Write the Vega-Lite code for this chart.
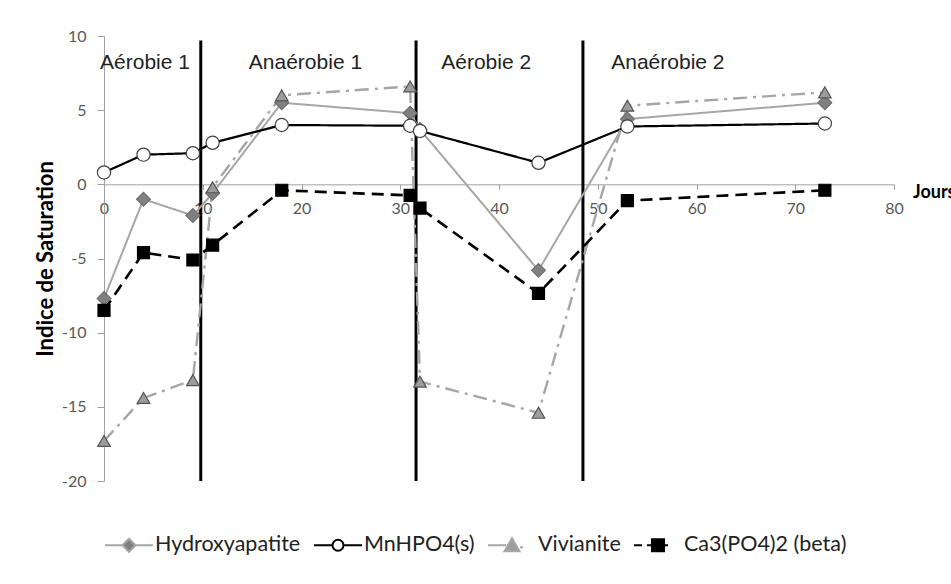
{
  "$schema": "https://vega.github.io/schema/vega-lite/v6.json",
  "width": 790,
  "height": 445,
  "autosize": {"type": "none"},
  "padding": {"left": 104, "top": 36, "right": 57, "bottom": 103},
  "background": "white",
  "config": {"view": {"stroke": null}, "font": "Lato"},
  "resolve": {"scale": {"shape": "independent", "fill": "independent", "stroke": "independent", "size": "independent"}},
  "datasets": {
    "series": [
      {"day": 0, "series": "Hydroxyapatite", "value": -7.7},
      {"day": 4, "series": "Hydroxyapatite", "value": -1.0},
      {"day": 9, "series": "Hydroxyapatite", "value": -2.1},
      {"day": 11, "series": "Hydroxyapatite", "value": -0.6},
      {"day": 18, "series": "Hydroxyapatite", "value": 5.5},
      {"day": 31, "series": "Hydroxyapatite", "value": 4.8},
      {"day": 32, "series": "Hydroxyapatite", "value": 3.7},
      {"day": 44, "series": "Hydroxyapatite", "value": -5.8},
      {"day": 53, "series": "Hydroxyapatite", "value": 4.4},
      {"day": 73, "series": "Hydroxyapatite", "value": 5.5},
      {"day": 0, "series": "MnHPO4(s)", "value": 0.8},
      {"day": 4, "series": "MnHPO4(s)", "value": 2.0},
      {"day": 9, "series": "MnHPO4(s)", "value": 2.1},
      {"day": 11, "series": "MnHPO4(s)", "value": 2.8},
      {"day": 18, "series": "MnHPO4(s)", "value": 4.0},
      {"day": 31, "series": "MnHPO4(s)", "value": 3.95},
      {"day": 32, "series": "MnHPO4(s)", "value": 3.6},
      {"day": 44, "series": "MnHPO4(s)", "value": 1.45},
      {"day": 53, "series": "MnHPO4(s)", "value": 3.9},
      {"day": 73, "series": "MnHPO4(s)", "value": 4.1},
      {"day": 0, "series": "Vivianite", "value": -17.3},
      {"day": 4, "series": "Vivianite", "value": -14.4},
      {"day": 9, "series": "Vivianite", "value": -13.2},
      {"day": 11, "series": "Vivianite", "value": -0.2},
      {"day": 18, "series": "Vivianite", "value": 6.0},
      {"day": 31, "series": "Vivianite", "value": 6.6},
      {"day": 32, "series": "Vivianite", "value": -13.3},
      {"day": 44, "series": "Vivianite", "value": -15.4},
      {"day": 53, "series": "Vivianite", "value": 5.3},
      {"day": 73, "series": "Vivianite", "value": 6.2},
      {"day": 0, "series": "Ca3(PO4)2 (beta)", "value": -8.5},
      {"day": 4, "series": "Ca3(PO4)2 (beta)", "value": -4.6},
      {"day": 9, "series": "Ca3(PO4)2 (beta)", "value": -5.1},
      {"day": 11, "series": "Ca3(PO4)2 (beta)", "value": -4.1},
      {"day": 18, "series": "Ca3(PO4)2 (beta)", "value": -0.4},
      {"day": 31, "series": "Ca3(PO4)2 (beta)", "value": -0.75},
      {"day": 32, "series": "Ca3(PO4)2 (beta)", "value": -1.6},
      {"day": 44, "series": "Ca3(PO4)2 (beta)", "value": -7.35},
      {"day": 53, "series": "Ca3(PO4)2 (beta)", "value": -1.1},
      {"day": 73, "series": "Ca3(PO4)2 (beta)", "value": -0.4}
    ],
    "phases": [{"day": 9.8}, {"day": 31.6}, {"day": 48.5}],
    "labels": [
      {"label": "Aérobie 1", "day": 4.15, "value": 7.8},
      {"label": "Anaérobie 1", "day": 20.4, "value": 7.8},
      {"label": "Aérobie 2", "day": 38.7, "value": 7.8},
      {"label": "Anaérobie 2", "day": 57.1, "value": 7.8}
    ],
    "jours": [{"label": "Jours", "day": 80, "value": 0}]
  },
  "layer": [
    {
      "data": {"name": "phases"},
      "mark": {"type": "rule", "color": "#000000", "strokeWidth": 3},
      "encoding": {
        "x": {"field": "day", "type": "quantitative", "scale": {"domain": [0, 80], "nice": false},
          "axis": {"values": [0,10,20,30,40,50,60,70,80], "title": null, "grid": false, "offset": -296.67,
            "labelFont": "Lato", "labelFontSize": 16, "labelColor": "#595959", "labelPadding": 11,
            "tickSize": 5, "tickColor": "#a0a0a0", "domainColor": "#a0a0a0", "labelFlush": false}},
        "y": {"datum": -20, "type": "quantitative", "scale": {"domain": [-20, 10], "nice": false},
          "axis": {"values": [-20,-15,-10,-5,0,5,10], "title": "Indice de Saturation", "grid": false,
            "labelExpr": "toString(datum.value)",
            "labelFont": "Lato", "labelFontSize": 16, "labelColor": "#595959", "labelPadding": 11,
            "tickSize": 7, "tickColor": "#a0a0a0", "domainColor": "#a0a0a0",
            "titleFont": "Lato", "titleFontSize": 22, "titleFontWeight": "bold", "titleColor": "#000000", "titlePadding": 4}},
        "y2": {"datum": 9.7}
      }
    },
    {
      "data": {"name": "series"},
      "mark": {"type": "line"},
      "encoding": {
        "x": {"field": "day", "type": "quantitative"},
        "y": {"field": "value", "type": "quantitative"},
        "detail": {"field": "series"},
        "color": {"field": "series", "type": "nominal",
          "scale": {"domain": ["Ca3(PO4)2 (beta)", "Vivianite", "MnHPO4(s)", "Hydroxyapatite"], "range": ["#000000", "#a6a6a6", "#000000", "#a6a6a6"]},
          "legend": null},
        "strokeDash": {"field": "series", "type": "nominal",
          "scale": {"domain": ["Ca3(PO4)2 (beta)", "Vivianite", "MnHPO4(s)", "Hydroxyapatite"], "range": [[12, 7], [14, 6, 3, 6], [1, 0], [1, 0]]},
          "legend": null},
        "strokeWidth": {"field": "series", "type": "ordinal",
          "scale": {"domain": ["Ca3(PO4)2 (beta)", "Vivianite", "MnHPO4(s)", "Hydroxyapatite"], "range": [2.6, 2, 2.6, 2]},
          "legend": null}
      }
    },
    {
      "data": {"name": "series"},
      "mark": {"type": "point", "opacity": 1, "strokeWidth": 1.2},
      "encoding": {
        "x": {"field": "day", "type": "quantitative"},
        "y": {"field": "value", "type": "quantitative"},
        "shape": {"field": "series", "type": "nominal",
          "scale": {"domain": ["Ca3(PO4)2 (beta)", "Vivianite", "MnHPO4(s)", "Hydroxyapatite"], "range": ["square", "triangle-up", "circle", "diamond"]},
          "legend": null},
        "stroke": {"field": "series", "type": "nominal",
          "scale": {"domain": ["Ca3(PO4)2 (beta)", "Vivianite", "MnHPO4(s)", "Hydroxyapatite"], "range": ["#000000", "#555555", "#404040", "#6e6e6e"]},
          "legend": null},
        "size": {"field": "series", "type": "ordinal",
          "scale": {"domain": ["Ca3(PO4)2 (beta)", "Vivianite", "MnHPO4(s)", "Hydroxyapatite"], "range": [144, 190, 100, 140]},
          "legend": null},
        "fill": {"field": "series", "type": "nominal",
          "scale": {"domain": ["Ca3(PO4)2 (beta)", "Vivianite", "MnHPO4(s)", "Hydroxyapatite"], "range": ["#000000", "#9c9c9c", "#ffffff", "#808080"]},
          "legend": null}
      }
    },
    {
      "data": {"name": "series"},
      "mark": {"type": "point", "filled": true, "opacity": 0, "strokeWidth": 2},
      "encoding": {
        "x": {"field": "day", "type": "quantitative"},
        "y": {"field": "value", "type": "quantitative"},
        "shape": {"field": "series", "type": "nominal",
          "scale": {"domain": ["Hydroxyapatite", "MnHPO4(s)", "Vivianite", "Ca3(PO4)2 (beta)"],
            "range": [
              "M-2.4,0H-0.65M0.65,0H2.4M0,-0.65L0.65,0L0,0.65L-0.65,0Z",
              "M-2.4,0H-0.55M0.55,0H2.4M0.55,0A0.55,0.55 0 1,1 -0.55,0A0.55,0.55 0 1,1 0.55,0Z",
              "M-2.4,0H-0.6M0.8,0.2H1.1M0,-0.7L0.75,0.6L-0.75,0.6Z",
              "M-2.4,0H-1.6M-1.1,0H-0.6M0.6,0H1.0M-0.6,-0.6H0.6V0.6H-0.6Z"
            ]},
          "legend": {"title": null, "orient": "none", "direction": "horizontal", "columns": 4, "legendX": 0, "legendY": 498,
            "labelFont": "Lato", "labelFontSize": 21.5, "labelColor": "#222222", "labelLimit": 400, "symbolSize": 400,
            "symbolOpacity": 1, "symbolStrokeWidth": 2, "symbolOffset": 14, "labelOffset": 15, "columnPadding": 9}},
        "stroke": {"field": "series", "type": "nominal",
          "scale": {"domain": ["Hydroxyapatite", "MnHPO4(s)", "Vivianite", "Ca3(PO4)2 (beta)"], "range": ["#a6a6a6", "#000000", "#a6a6a6", "#000000"]},
          "legend": {"title": null, "orient": "none", "direction": "horizontal", "columns": 4, "legendX": 0, "legendY": 498,
            "labelFont": "Lato", "labelFontSize": 21.5, "labelColor": "#222222", "labelLimit": 400, "symbolSize": 400,
            "symbolOpacity": 1, "symbolStrokeWidth": 2, "symbolOffset": 14, "labelOffset": 15, "columnPadding": 9}},
        "fill": {"field": "series", "type": "nominal",
          "scale": {"domain": ["Hydroxyapatite", "MnHPO4(s)", "Vivianite", "Ca3(PO4)2 (beta)"], "range": ["#808080", "#ffffff", "#9c9c9c", "#000000"]},
          "legend": {"title": null, "orient": "none", "direction": "horizontal", "columns": 4, "legendX": 0, "legendY": 498,
            "labelFont": "Lato", "labelFontSize": 21.5, "labelColor": "#222222", "labelLimit": 400, "symbolSize": 400,
            "symbolOpacity": 1, "symbolStrokeWidth": 2, "symbolOffset": 14, "labelOffset": 15, "columnPadding": 9}}
      }
    },
    {
      "data": {"name": "labels"},
      "mark": {"type": "text", "font": "Liberation Sans", "fontSize": 21, "align": "center", "baseline": "alphabetic", "color": "#222222"},
      "encoding": {
        "x": {"field": "day", "type": "quantitative"},
        "y": {"field": "value", "type": "quantitative"},
        "text": {"field": "label"}
      }
    },
    {
      "data": {"name": "jours"},
      "mark": {"type": "text", "font": "Lato", "fontSize": 18, "fontWeight": "bold", "align": "left", "baseline": "middle", "dx": 19, "dy": 9, "color": "#000000"},
      "encoding": {
        "x": {"field": "day", "type": "quantitative"},
        "y": {"field": "value", "type": "quantitative"},
        "text": {"field": "label"}
      }
    }
  ]
}
